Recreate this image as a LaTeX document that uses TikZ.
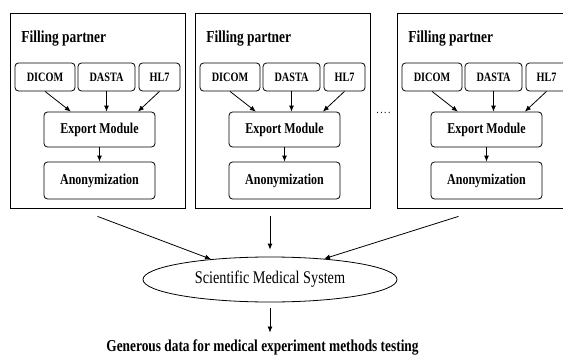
\documentclass[tikz,border=0pt]{standalone}
\usepackage{fontspec}
\newfontfamily\figfont[FakeStretch=0.8]{Liberation Serif}
\usetikzlibrary{shapes.geometric,arrows.meta}

\begin{document}
\begin{tikzpicture}[x=1pt, y=-1pt,
                    >={Latex[length=6pt,width=5pt]},
                    font=\figfont,
                    line width=0.8pt,
                    panel/.style={draw, minimum width=175pt, minimum height=195pt, inner sep=0pt},
                    head/.style={anchor=west, inner sep=0pt, font=\figfont\bfseries\fontsize{16.8}{19}\selectfont},
                    fmt/.style={draw, rounded corners=3.5pt, minimum width=#1, minimum height=28pt, inner sep=0pt,
                                font=\figfont\bfseries\fontsize{12.8}{15}\selectfont},
                    module/.style={fmt=111pt, font=\figfont\bfseries\fontsize{15}{18}\selectfont},
                    sys/.style={draw, ellipse, minimum width=254pt, minimum height=45pt, inner sep=0pt,
                                font=\figfont\fontsize{17.8}{20}\selectfont},
                    ra/.style={->}]

\useasboundingbox (0,0) rectangle (563,356);
\clip (0,0) rectangle (563,356);

% first partner
\node [panel] (fp1) at (97.5,110.5) {};
\node [head] (t1) at (21,39) {Filling partner};
\node [fmt=60pt] (dicom1) at (45,77) {DICOM};
\node [fmt=57pt] (dasta1) at (106.5,77) {DASTA};
\node [fmt=41pt] (hl1) at (159.5,77) {HL7};
\node [module, minimum height=35pt] (exp1) at (99.5,129.5) {Export Module};
\node [module, minimum height=37pt] (anon1) at (99.5,180.5) {Anonymization};

% second partner
\node [panel] (fp2) at (283,110.5) {};
\node [head] (t2) at (206,39) {Filling partner};
\node [fmt=60pt] (dicom2) at (230,77) {DICOM};
\node [fmt=57pt] (dasta2) at (291.5,77) {DASTA};
\node [fmt=41pt] (hl2) at (344.5,77) {HL7};
\node [module, minimum height=35pt] (exp2) at (284.5,129.5) {Export Module};
\node [module, minimum height=37pt] (anon2) at (284.5,180.5) {Anonymization};

\node [anchor=base west, inner sep=0pt, font=\figfont\fontsize{12}{14}\selectfont] (dots) at (376,113)
      {.\kern1.5pt.\kern1.5pt.\kern1.5pt.};

% last partner
\node [panel] (fp3) at (484.5,110.5) {};
\node [head] (t3) at (408,39) {Filling partner};
\node [fmt=60pt] (dicom3) at (432,77) {DICOM};
\node [fmt=57pt] (dasta3) at (493.5,77) {DASTA};
\node [fmt=41pt] (hl3) at (546.5,77) {HL7};
\node [module, minimum height=35pt] (exp3) at (486.5,129.5) {Export Module};
\node [module, minimum height=37pt] (anon3) at (486.5,180.5) {Anonymization};

\node [sys] (sms) at (270,279.5) {Scientific Medical System};
\node [font=\figfont\bfseries\fontsize{16.7}{20}\selectfont] (out) at (262.5,347)
      {Generous data for medical experiment methods testing};

\draw [ra] (dicom1.south) -- (exp1.148);
\draw [ra] (dasta1.south) -- (dasta1.south |- exp1.north);
\draw [ra] (hl1.south) -- (exp1.25);
\draw [ra] (exp1) -- (anon1);

\draw [ra] (dicom2.south) -- (exp2.148);
\draw [ra] (dasta2.south) -- (dasta2.south |- exp2.north);
\draw [ra] (hl2.south) -- (exp2.25);
\draw [ra] (exp2) -- (anon2);

\draw [ra] (dicom3.south) -- (exp3.148);
\draw [ra] (dasta3.south) -- (dasta3.south |- exp3.north);
\draw [ra] (hl3.south) -- (exp3.25);
\draw [ra] (exp3) -- (anon3);

\draw [ra] ([yshift=-8pt]fp1.south) -- (sms.161);
\draw [ra, shorten <=8pt, shorten >=7pt] (fp2.south -| sms.north) -- (sms.north);
\draw [ra] ([xshift=-26pt,yshift=-8pt]fp3.south) -- (sms.21);
\draw [ra, shorten <=6pt, shorten >=3pt] (sms.south) -- (sms.south |- out.north);

\end{tikzpicture}
\end{document}
